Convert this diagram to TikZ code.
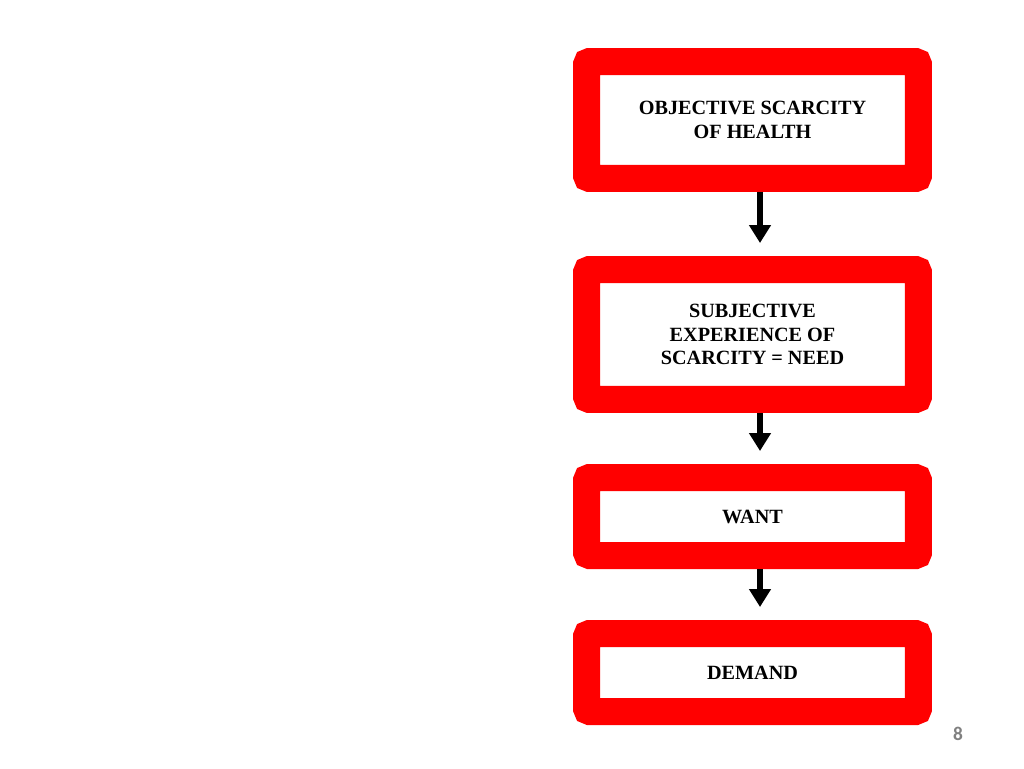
\documentclass[tikz,border=0pt]{standalone}
\usepackage{fontspec}
\setmainfont{Liberation Serif}
\newfontfamily\pagefont{Carlito}
\usetikzlibrary{arrows.meta,positioning}

\begin{document}
\begin{tikzpicture}
    [x=0.02cm,y=-0.02cm,
    stage/.style={rectangle,draw=red,fill=white,line width=0.54cm,
                  rounded corners=0.06cm,minimum width=6.64cm,
                  align=center,font=\bfseries\fontsize{11.5}{13.5}\selectfont},
    flow/.style={-{Triangle[width=0.42cm,length=0.36cm]},line width=0.12cm,
                 shorten >=0.26cm}]

    \useasboundingbox (0,0) rectangle (1024,768);

    \node[stage,minimum height=2.34cm] (scarcity) at (752.5,120) {OBJECTIVE SCARCITY\\OF HEALTH};
    \node[stage,minimum height=2.6cm] (need) at (752.5,334.5) {SUBJECTIVE\\EXPERIENCE OF\\SCARCITY = NEED};
    \node[stage,minimum height=1.56cm] (want) at (752.5,516.5) {WANT};
    \node[stage,minimum height=1.56cm] (demand) at (752.5,672.5) {DEMAND};

    \draw[flow] ([xshift=0.15cm]scarcity.south) -- ([xshift=0.15cm]need.north);
    \draw[flow] ([xshift=0.15cm]need.south) -- ([xshift=0.15cm]want.north);
    \draw[flow] ([xshift=0.15cm]want.south) -- ([xshift=0.15cm]demand.north);

    \node[text=gray,font=\pagefont\bfseries\fontsize{11}{13}\selectfont] (page) at (958,734) {8};
\end{tikzpicture}
\end{document}
